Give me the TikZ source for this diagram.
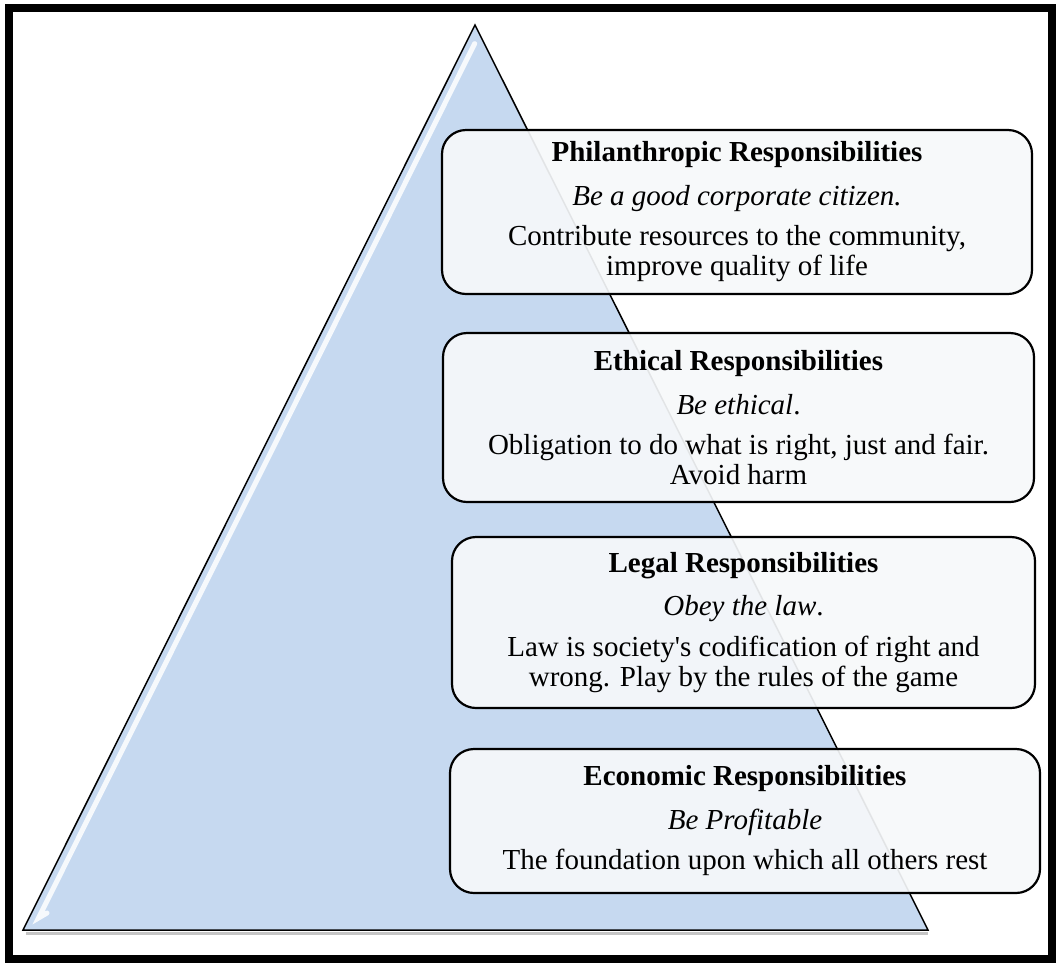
\documentclass[tikz,border=0pt]{standalone}
\usepackage{fontspec}
\setmainfont{Liberation Serif}
\usepackage{xcolor}
\definecolor{pyramid}{HTML}{C6D9F0}
\definecolor{card}{HTML}{F6F8FA}

\begin{document}
\begin{tikzpicture}[x=1pt,y=-1pt,
		level/.style={draw=black,line width=2.2pt,rounded corners=24pt,fill=card,fill opacity=0.92,
			text opacity=1,align=center,inner sep=0pt,font=\fontsize{29}{30}\selectfont}]
		%
		\useasboundingbox (0,0) rectangle (1056,962);
		\draw [line width=8pt] (9,8) rectangle (1052,959);
		%
		\coordinate (top) at (475,25);
		\coordinate (left) at (23,930);
		\coordinate (right) at (928,930);
		\draw [black!45,line width=3pt,opacity=0.5] ([shift={(3,3)}]left) -- ([shift={(0,3)}]right);
		\draw [fill=pyramid,line width=1.5pt] (top) -- (right) -- (left) -- cycle;
		\draw [white,line width=5pt,opacity=0.85,line cap=round] (474.7,43.6) -- (38.5,918) -- (47,913);
		%
		\node [level,minimum width=590pt,minimum height=164pt] (philanthropic) at (737,212)
			{\textbf{Philanthropic Responsibilities}\\[14pt]
			\textit{Be a good corporate citizen.}\\[10pt]
			Contribute resources to the community,\\
			improve quality of life};
		\node [level,minimum width=591pt,minimum height=169pt] (ethical) at (738.5,417.5)
			{\textbf{Ethical Responsibilities}\\[14pt]
			\textit{Be ethical}.\\[10pt]
			Obligation to do what is right, just and fair.\\
			Avoid harm};
		\node [level,minimum width=583pt,minimum height=171pt] (legal) at (743.5,622.5)
			{\textbf{Legal Responsibilities}\\[13pt]
			\textit{Obey the law}.\\[11pt]
			Law is society\textquotesingle s codification of right and\\
			wrong. Play by the rules of the game};
		\node [level,minimum width=590pt,minimum height=144pt] (economic) at (745,821)
			{\textbf{Economic Responsibilities}\\[14pt]
			\textit{Be Profitable}\\[10pt]
			The foundation upon which all others rest};
		%
\end{tikzpicture}
\end{document}
